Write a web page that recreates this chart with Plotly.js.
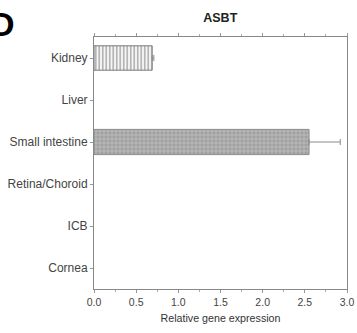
<!DOCTYPE html>
<html>
<head>
<meta charset="utf-8">
<script src="https://cdn.plot.ly/plotly-3.0.1.min.js"></script>
<style>html,body{margin:0;padding:0;background:#fff;}#chart{width:357px;height:333px;}</style>
</head>
<body>
<div id="chart"></div>
<script>
var categories = ["Kidney", "Liver", "Small intestine", "Retina/Choroid", "ICB", "Cornea"];
var values = [0.69, 0, 2.55, 0, 0, 0];
var errorsPlus = [0.02, 0, 0.37, 0, 0, 0];
var xTicks = [0, 0.5, 1, 1.5, 2, 2.5, 3];
var xTickLabels = ["0.0", "0.5", "1.0", "1.5", "2.0", "2.5", "3.0"];

function pick(arr, idx) { return idx.map(function(i){ return arr[i]; }); }
var kidneyIdx = [0];
var siIdx = [2];
var emptyIdx = [1, 3, 4, 5];

var traces = [
  {
    type: 'bar', orientation: 'h',
    y: pick(categories, kidneyIdx), x: pick(values, kidneyIdx),
    width: 0.58,
    marker: {color: '#f4f4f4', line: {color: '#7a7a7a', width: 1},
      pattern: {shape: '|', fgcolor: '#9a9a9a', bgcolor: '#f6f6f6', size: 3.5, solidity: 0.35}},
    error_x: {type: 'data', symmetric: false, array: pick(errorsPlus, kidneyIdx), arrayminus: [0], color: '#8a8a8a', thickness: 1, width: 3},
    hoverinfo: 'none', showlegend: false
  },
  {
    type: 'bar', orientation: 'h',
    y: pick(categories, siIdx), x: pick(values, siIdx),
    width: 0.6,
    marker: {color: '#a2a2a2', line: {color: '#8a8a8a', width: 1},
      pattern: {shape: '+', fgcolor: '#cfcfcf', bgcolor: '#a0a0a0', size: 4, solidity: 0.25}},
    error_x: {type: 'data', symmetric: false, array: pick(errorsPlus, siIdx), arrayminus: [0], color: '#8a8a8a', thickness: 1, width: 3},
    hoverinfo: 'none', showlegend: false
  },
  {
    type: 'bar', orientation: 'h',
    y: pick(categories, emptyIdx), x: pick(values, emptyIdx),
    marker: {color: 'rgba(0,0,0,0)', line: {width: 0}},
    hoverinfo: 'none', showlegend: false
  }
];

var layout = {
  width: 357, height: 333,
  margin: {l: 94, r: 10, t: 37, b: 44},
  paper_bgcolor: '#fff', plot_bgcolor: '#fff',
  barmode: 'overlay',
  font: {family: 'Liberation Sans, Arial, sans-serif', color: '#333', size: 10},
  title: {text: '<b>ASBT</b>', font: {size: 12.5, color: '#222'}, x: 0.617, xanchor: 'center', y: 0.948, yanchor: 'middle'},
  xaxis: {
    range: [0, 3], tickvals: xTicks, ticktext: xTickLabels,
    showgrid: false, zeroline: false, showline: true, linecolor: '#888', linewidth: 1,
    mirror: 'ticks', ticks: 'outside', ticklen: 3, tickcolor: '#999',
    minor: {dtick: 0.25, ticks: 'outside', ticklen: 2, tickcolor: '#aaa'},
    tickfont: {size: 10.5, color: '#444'},
    title: {text: 'Relative gene expression', font: {size: 10.7, color: '#333'}, standoff: 7}
  },
  yaxis: {
    type: 'category', categoryorder: 'array', categoryarray: categories,
    range: [5.5, -0.5], autorange: false,
    showgrid: false, zeroline: false, showline: true, linecolor: '#888', linewidth: 1,
    mirror: true, ticks: 'outside', ticklen: 3, tickcolor: '#999',
    tickfont: {size: 12, color: '#444'}
  },
  annotations: [
    {text: '<b>D</b>', xref: 'paper', yref: 'paper', x: -0.42, y: 1.05, xanchor: 'left', yanchor: 'middle',
     showarrow: false, font: {size: 34, color: '#000', family: 'Liberation Sans, Arial, sans-serif'}}
  ]
};

Plotly.newPlot('chart', traces, layout, {displayModeBar: false, staticPlot: true});
</script>
</body>
</html>
